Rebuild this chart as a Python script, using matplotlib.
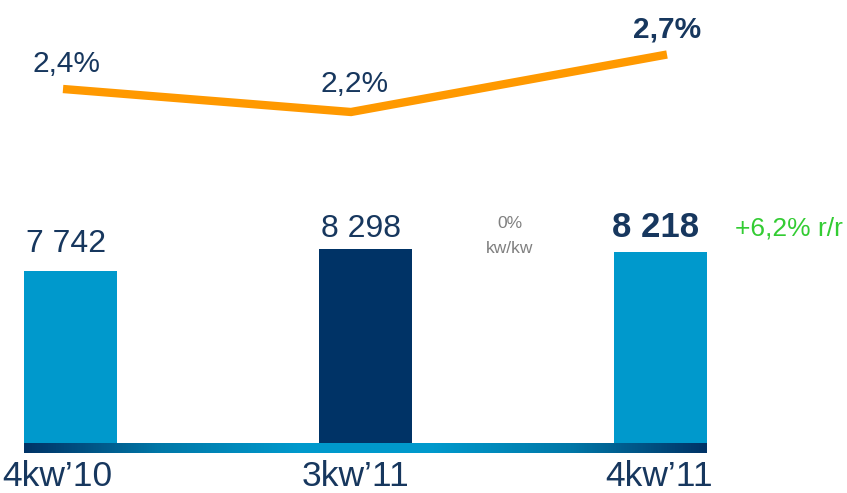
import matplotlib
matplotlib.use("Agg")
import matplotlib.pyplot as plt
import numpy as np
from matplotlib.colors import LinearSegmentedColormap

# ---------------- data ----------------
categories = ["4kw’10", "3kw’11", "4kw’11"]
values = [7742, 8298, 8218]
value_labels = ["7 742", "8 298", "8 218"]
share = [2.4, 2.2, 2.7]
share_labels = ["2,4%", "2,2%", "2,7%"]
qq_note = ["0%", "kw/kw"]
yy_note = "+6,2% r/r"

# ---------------- style ----------------
W, H = 847, 493
LIGHT = "#0099CC"
NAVY = "#003366"
TEXT = "#17375E"
ORANGE = "#FF9900"
GREEN = "#33CC33"
GREY = "#808080"
bar_colors = [LIGHT, NAVY, LIGHT]
bold = [False, False, True]
REG = "Liberation Sans"

fig = plt.figure(figsize=(W / 100, H / 100), dpi=100)

def fx(x):
    return x / W

def fy(y):
    return 1 - y / H

# bar axes: spans from top to the base strip (pixel 443)
ax = fig.add_axes([0, fy(443), 1, 443 / H])
xs = np.arange(len(categories))
ax.set_xlim(-70 / 295, (W - 70) / 295)
ax.set_ylim(3395, 14591)
ax.bar(xs, values, width=93 / 295, color=bar_colors, zorder=1)
ax.axis("off")

# line axes (full figure)
ax2 = fig.add_axes([0, 0, 1, 1], facecolor="none")
ax2.set_xlim(-70 / 295, (W - 70) / 295)
ax2.set_ylim(2.4 - 404 / 115, 2.4 + 89 / 115)
line_x = [-0.0237, 0.9525, 2.0237]
ax2.plot(line_x, share, color=ORANGE, lw=6, solid_capstyle="butt", solid_joinstyle="miter")
ax2.axis("off")

# gradient base strip
gax = fig.add_axes([fx(24), fy(453), fx(706) - fx(24), 10 / H])
cmap = LinearSegmentedColormap.from_list("g", [NAVY, "#0078A8", LIGHT, LIGHT, "#0078A8", NAVY])
grad = np.linspace(0, 1, 512)[None, :]
gax.imshow(grad, aspect="auto", cmap=cmap, extent=[0, 1, 0, 1])
gax.axis("off")

# category labels
cat_pos = [(57, 486), (356, 486), (659, 486)]
for (x, y), c in zip(cat_pos, categories):
    fig.text(fx(x), fy(y), c, ha="center", va="baseline", fontsize=25.5,
             family=REG, color=TEXT)

# value labels
val_pos = [(66, 252), (361, 237), (656, 237)]
for (x, y), t, b in zip(val_pos, value_labels, bold):
    fig.text(fx(x), fy(y), t, ha="center", va="baseline",
             fontsize=25 if b else 23, family=REG, color=TEXT,
             fontweight="bold" if b else "normal")

# share labels
sh_pos = [(66, 72), (355, 92), (667, 38)]
for (x, y), t, b in zip(sh_pos, share_labels, bold):
    fig.text(fx(x), fy(y), t, ha="center", va="baseline",
             fontsize=21.5, family=REG, color=TEXT,
             fontweight="bold" if b else "normal")

# notes
fig.text(fx(510), fy(228), qq_note[0], ha="center", va="baseline", fontsize=12.5,
         family=REG, color=GREY)
fig.text(fx(510), fy(253), qq_note[1], ha="center", va="baseline", fontsize=12.5,
         family=REG, color=GREY)
fig.text(fx(789), fy(236), yy_note, ha="center", va="baseline", fontsize=19,
         family=REG, color=GREEN)

fig.savefig("out.png", dpi=100)
